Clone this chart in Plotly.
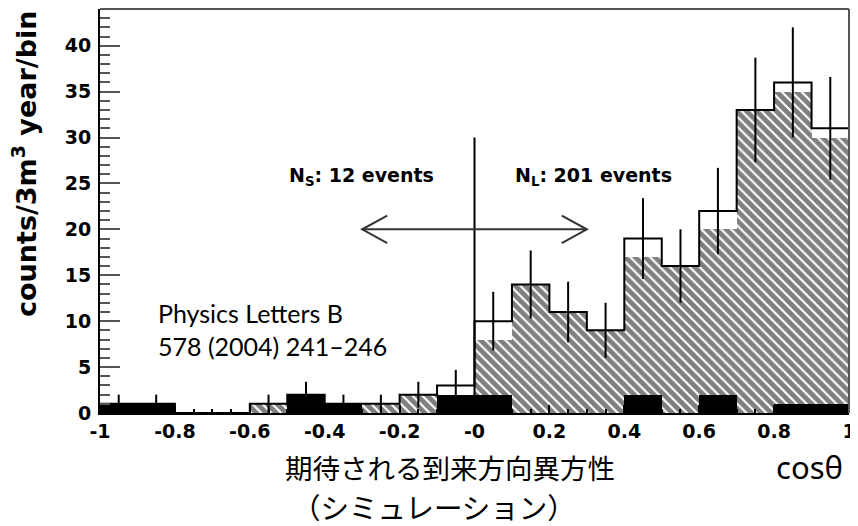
import plotly.graph_objects as go

# ---------------- data ----------------
bin_centers = [-0.95, -0.85, -0.75, -0.65, -0.55, -0.45, -0.35, -0.25, -0.15, -0.05,
               0.05, 0.15, 0.25, 0.35, 0.45, 0.55, 0.65, 0.75, 0.85, 0.95]
bin_width = 0.1
total_counts = [1, 1, 0, 0, 1, 2, 1, 1, 2, 3,
                10, 14, 11, 9, 19, 16, 22, 33, 36, 31]
count_errors = [1.0, 1.0, 0, 0, 1.0, 1.4, 1.0, 1.0, 1.4, 1.7,
                3.2, 3.7, 3.3, 3.0, 4.4, 4.0, 4.7, 5.7, 6.0, 5.6]
hatched_counts = [0, 0, 0, 0, 1, 0, 0, 1, 2, 1,
                  8, 14, 11, 9, 17, 16, 20, 33, 35, 30]
black_counts = [1, 1, 0, 0, 0, 2, 1, 0, 0, 2,
                2, 0, 0, 0, 2, 0, 2, 0, 1, 1]
x_tick_vals = [-1, -0.8, -0.6, -0.4, -0.2, 0, 0.2, 0.4, 0.6, 0.8, 1]
x_tick_text = ["-1", "-0.8", "-0.6", "-0.4", "-0.2", "-0", "0.2", "0.4", "0.6", "0.8", "1"]
y_tick_vals = [0, 5, 10, 15, 20, 25, 30, 35, 40]

cut_x = 0.0
cut_top = 30
arrow_y = 20
arrow_left, arrow_right = -0.3, 0.3

# step outline built from the bins
step_x = [bin_centers[0] - bin_width / 2] + [c - bin_width / 2 for c in bin_centers] + \
         [bin_centers[-1] + bin_width / 2] * 2
step_y = [0] + total_counts + [total_counts[-1], 0]

tick_font = dict(family="DejaVu Sans", size=19, color="black", weight="bold")

fig = go.Figure()
fig.add_trace(go.Bar(
    x=bin_centers, y=hatched_counts, width=bin_width,
    marker=dict(color="white", line=dict(width=0),
                pattern=dict(shape="\\", fgcolor="black", bgcolor="white",
                             size=7, solidity=0.7)),
    showlegend=False, hoverinfo="skip"))
fig.add_trace(go.Bar(
    x=bin_centers, y=black_counts, width=bin_width,
    marker=dict(color="black", line=dict(width=0)),
    showlegend=False, hoverinfo="skip"))
fig.add_trace(go.Scatter(
    x=step_x, y=step_y, mode="lines", line=dict(color="black", width=2, shape="hv"),
    showlegend=False, hoverinfo="skip"))
fig.add_trace(go.Scatter(
    x=bin_centers, y=total_counts, mode="markers",
    marker=dict(size=1, color="rgba(0,0,0,0)"),
    error_y=dict(type="data", array=count_errors, width=0, thickness=2, color="black"),
    showlegend=False, hoverinfo="skip"))

line_col = "#333333"
shapes = [
    dict(type="line", xref="x", yref="y", x0=cut_x, x1=cut_x, y0=0, y1=cut_top,
         line=dict(color="black", width=2)),
    dict(type="line", xref="x", yref="y", x0=arrow_left, x1=arrow_right, y0=arrow_y, y1=arrow_y,
         line=dict(color=line_col, width=2)),
    dict(type="path", xref="x", yref="y",
         path=f"M {arrow_left + 0.067},{arrow_y + 1.5} L {arrow_left},{arrow_y} L {arrow_left + 0.067},{arrow_y - 1.5}",
         line=dict(color=line_col, width=2)),
    dict(type="path", xref="x", yref="y",
         path=f"M {arrow_right - 0.067},{arrow_y + 1.5} L {arrow_right},{arrow_y} L {arrow_right - 0.067},{arrow_y - 1.5}",
         line=dict(color=line_col, width=2)),
    # frame top / right
    dict(type="line", xref="paper", yref="paper", x0=0, x1=1, y0=1, y1=1,
         line=dict(color="#555555", width=2)),
    dict(type="line", xref="paper", yref="paper", x0=1, x1=1, y0=0, y1=1,
         line=dict(color="#555555", width=2)),
]

# page has an 8px body margin: figure is placed at (8, 8)
OFF = 8
W, H = 858 - OFF, 526 - OFF
PL, PR, PT, PB = 100, 849, 9, 413          # plot area in page pixels
L, R, T, B = PL - OFF, 858 - PR, PT - OFF, 526 - PB
pw, ph = PR - PL, PB - PT

def px(X):
    return (X - PL) / pw

def py(Y):
    return (PB - Y) / ph

text_font = dict(family="DejaVu Sans", size=19, color="black", weight="bold")
annotations = [
    dict(x=-0.5, y=25.8, xref="x", yref="y", text="N<sub>S</sub>: 12 events",
         showarrow=False, xanchor="left", yanchor="middle", font=text_font),
    dict(x=0.103, y=25.8, xref="x", yref="y", text="N<sub>L</sub>: 201 events",
         showarrow=False, xanchor="left", yanchor="middle", font=text_font),
    dict(x=px(156), y=py(313), xref="paper", yref="paper", text="Physics Letters B",
         showarrow=False, xanchor="left", yanchor="middle",
         font=dict(family="Lato", size=25, color="black")),
    dict(x=px(156), y=py(346), xref="paper", yref="paper", text="578 (2004) 241–246",
         showarrow=False, xanchor="left", yanchor="middle",
         font=dict(family="Lato", size=25, color="black")),
    dict(x=px(24), y=py(164), xref="paper", yref="paper", text="counts/3m<sup>3</sup> year/bin",
         textangle=-90, showarrow=False, xanchor="center", yanchor="middle",
         font=dict(family="DejaVu Sans", size=27, color="black", weight="bold")),
    dict(x=px(283), y=py(467), xref="paper", yref="paper", text="期待される到来方向異方性",
         showarrow=False, xanchor="left", yanchor="middle",
         font=dict(family="Noto Sans CJK JP", size=27.5, color="black")),
    dict(x=px(290), y=py(506), xref="paper", yref="paper", text="（シミュレーション）",
         showarrow=False, xanchor="left", yanchor="middle",
         font=dict(family="Noto Sans CJK JP", size=28.5, color="black")),
    dict(x=px(774), y=py(467), xref="paper", yref="paper", text="cosθ",
         showarrow=False, xanchor="left", yanchor="middle",
         font=dict(family="Noto Sans", size=31, color="black")),
]

fig.update_layout(
    width=W, height=H,
    margin=dict(l=L, r=R, t=T, b=B, pad=0, autoexpand=False),
    paper_bgcolor="white", plot_bgcolor="white",
    barmode="overlay", bargap=0,
    shapes=shapes, annotations=annotations,
    xaxis=dict(range=[-1, 1], tickvals=x_tick_vals, ticktext=x_tick_text,
               ticks="inside", ticklen=8, tickwidth=1.5, tickcolor="black",
               minor=dict(dtick=0.05, ticks="inside", ticklen=4, tickwidth=1.5, tickcolor="black"),
               showline=True, linecolor="black", linewidth=2, showgrid=False, zeroline=False,
               tickfont=tick_font, fixedrange=True, automargin=False),
    yaxis=dict(range=[0, 44], tickvals=y_tick_vals,
               ticks="inside", ticklen=20, tickwidth=2, tickcolor="#555555",
               minor=dict(dtick=1, ticks="inside", ticklen=10, tickwidth=2, tickcolor="#555555"),
               showline=True, linecolor="black", linewidth=2, showgrid=False, zeroline=False,
               tickfont=tick_font, ticklabelstandoff=3, fixedrange=True, automargin=False),
)

fig.write_html("out.html")
